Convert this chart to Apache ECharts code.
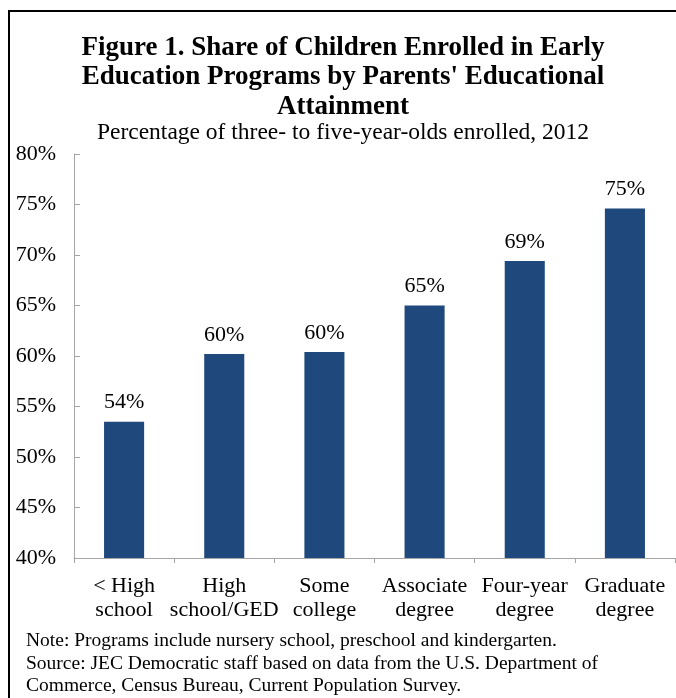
<!DOCTYPE html>
<html>
<head>
<meta charset="utf-8">
<script src="https://cdn.jsdelivr.net/npm/echarts@6/dist/echarts.min.js"></script>
<style>
  html, body { margin: 0; padding: 0; background: #fff; }
  #chart { width: 676px; height: 698px; }
</style>
</head>
<body>
<div id="chart"></div>
<script>
// categories and values
var categories = ['< High\nschool', 'High\nschool/GED', 'Some\ncollege', 'Associate\ndegree', 'Four-year\ndegree', 'Graduate\ndegree'];
var shareEnrolled = [53.5, 60.2, 60.4, 65.0, 69.4, 74.6];
var yMin = 40, yMax = 80, yStep = 5;

var serif = '"Liberation Serif", "DejaVu Serif", serif';
var chart = echarts.init(document.getElementById('chart'));

var option = {
    animation: false,
    backgroundColor: '#fff',
    title: {
        text: 'Figure 1. Share of Children Enrolled in Early\nEducation Programs by Parents\' Educational\nAttainment',
        subtext: 'Percentage of three- to five-year-olds enrolled, 2012',
        left: 338,
        top: 28,
        itemGap: 0,
        textAlign: 'center',
        textStyle: {
            fontFamily: serif,
            fontWeight: 'bold',
            fontSize: 27,
            lineHeight: 29.5,
            color: '#000'
        },
        subtextStyle: {
            fontFamily: serif,
            fontSize: 23.5,
            lineHeight: 22,
            color: '#000'
        }
    },
    grid: {
        left: 74,
        right: 1,
        top: 154,
        bottom: 140
    },
    xAxis: {
        type: 'category',
        data: categories,
        axisLine: { lineStyle: { color: '#a6a6a6', width: 1 } },
        axisTick: { show: true, length: 5, lineStyle: { color: '#a6a6a6' } },
        axisLabel: {
            fontFamily: serif,
            fontSize: 22,
            lineHeight: 24,
            color: '#000',
            margin: 16,
            interval: 0
        }
    },
    yAxis: {
        type: 'value',
        min: yMin,
        max: yMax,
        interval: yStep,
        axisLine: { show: true, lineStyle: { color: '#a6a6a6', width: 1 } },
        axisTick: { show: true, inside: true, length: 6, lineStyle: { color: '#a6a6a6' } },
        splitLine: { show: false },
        axisLabel: {
            fontFamily: serif,
            fontSize: 22,
            color: '#000',
            margin: 18,
            formatter: function (v) { return v + '%'; }
        }
    },
    series: [{
        type: 'bar',
        data: shareEnrolled,
        barWidth: '40%',
        itemStyle: { color: '#1f497d' },
        label: {
            show: true,
            position: 'top',
            distance: 8,
            fontFamily: serif,
            fontSize: 22,
            color: '#000',
            formatter: function (p) { return Math.round(p.value) + '%'; }
        }
    }],
    graphic: [
        {
            type: 'rect',
            shape: { x: 9, y: 11, width: 720, height: 720 },
            style: { fill: null, stroke: '#000', lineWidth: 2 },
            silent: true
        },
        {
            type: 'text',
            left: 26,
            top: 630,
            style: {
                text: 'Note: Programs include nursery school, preschool and kindergarten.\nSource: JEC Democratic staff based on data from the U.S. Department of\nCommerce, Census Bureau, Current Population Survey.',
                font: '19.5px ' + serif,
                lineHeight: 22.5,
                fill: '#000'
            }
        }
    ]
};

chart.setOption(option);
</script>
</body>
</html>
